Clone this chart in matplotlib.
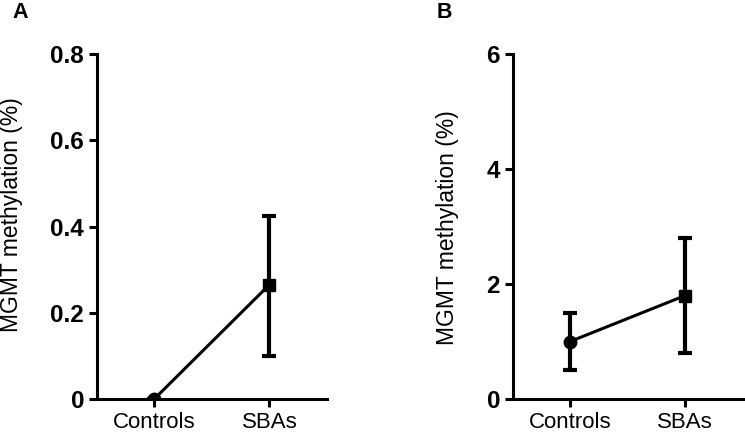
import matplotlib
matplotlib.use("Agg")
import matplotlib.pyplot as plt

plt.rcParams['font.family'] = ['Liberation Sans', 'DejaVu Sans']

categories = ["Controls", "SBAs"]

# Panel A
a_mean = [0.0, 0.265]
a_low = [0.0, 0.10]
a_high = [0.0, 0.425]
a_yticks = [0, 0.2, 0.4, 0.6, 0.8]
a_yticklabels = ["0", "0.2", "0.4", "0.6", "0.8"]

# Panel B
b_mean = [1.0, 1.8]
b_low = [0.5, 0.8]
b_high = [1.5, 2.8]
b_yticks = [0, 2, 4, 6]
b_yticklabels = ["0", "2", "4", "6"]

ylabel = "MGMT methylation (%)"

fig = plt.figure(figsize=(7.45, 4.36), dpi=100)
axA = fig.add_axes([0.1298, 0.0849, 0.309, 0.791])
axB = fig.add_axes([0.688, 0.0849, 0.309, 0.791])


def draw(ax, mean, low, high, yticks, yticklabels, ymax):
    x = list(range(len(categories)))
    yerr = [[m - l for m, l in zip(mean, low)], [h - m for m, h in zip(mean, high)]]
    ax.plot(x, mean, color='black', lw=2.2, zorder=2)
    ax.errorbar(x, mean, yerr=yerr, fmt='none', ecolor='black', elinewidth=3.0,
                capsize=5, capthick=3.0, zorder=3)
    ax.plot(x[0], mean[0], 'o', color='black', ms=9, zorder=4)
    ax.plot(x[1], mean[1], 's', color='black', ms=9, zorder=4)
    ax.set_xlim(-0.5, 1.5)
    ax.set_ylim(0, ymax)
    ax.set_xticks(x)
    ax.set_xticklabels(categories, fontsize=16)
    ax.set_yticks(yticks)
    ax.set_yticklabels(yticklabels, fontsize=17.5, fontweight='bold')
    for s in ['top', 'right']:
        ax.spines[s].set_visible(False)
    for s in ['left', 'bottom']:
        ax.spines[s].set_linewidth(2.2)
    ax.tick_params(axis='both', width=2.2, length=6, direction='out')
    ax.tick_params(axis='y', pad=3)
    ax.tick_params(axis='x', pad=3.5)
    ax.patch.set_alpha(0)


draw(axA, a_mean, a_low, a_high, a_yticks, a_yticklabels, 0.8)
draw(axB, b_mean, b_low, b_high, b_yticks, b_yticklabels, 6)

fig.text(12 / 745, 1 - 215 / 436, ylabel, rotation=90, ha='center', va='center', fontsize=16.5)
fig.text(448 / 745, 1 - 228 / 436, ylabel, rotation=90, ha='center', va='center', fontsize=16.5)

fig.text(12 / 745, 1 - 12 / 436, "A", fontsize=15.5, fontweight='bold', ha='left', va='center')
fig.text(437 / 745, 1 - 12 / 436, "B", fontsize=15.5, fontweight='bold', ha='left', va='center')

fig.savefig("out.png", dpi=100)
